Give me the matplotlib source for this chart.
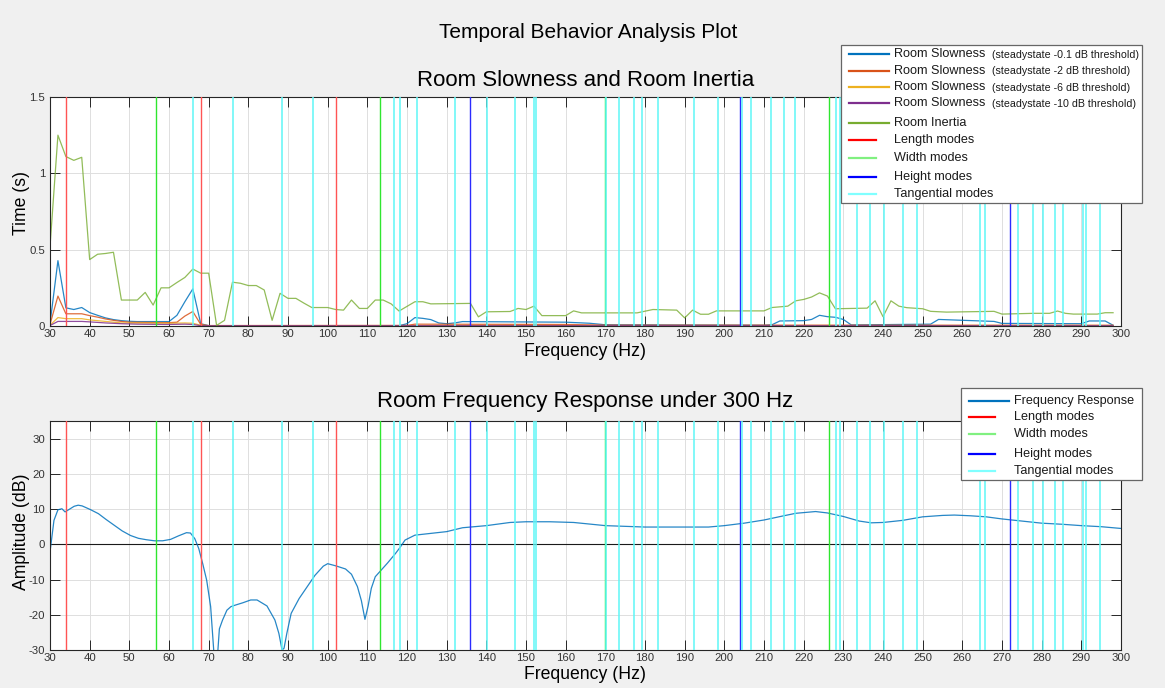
import matplotlib
matplotlib.use("Agg")
import matplotlib.pyplot as plt
from matplotlib.patches import Rectangle
from matplotlib.lines import Line2D

plt.rcParams['font.family'] = ['Liberation Sans', 'DejaVu Sans']
plt.rcParams['axes.unicode_minus'] = False

# ---------------------------------------------------------------- data
# Room slowness for four steady-state thresholds (s)
slow01_freq = [30, 32, 34, 36, 38, 40, 42, 44, 46, 48, 50, 52, 60, 62, 64, 66, 68, 70,
               118, 120, 122, 124, 126, 128, 130, 132, 134, 160, 166, 170, 210, 212, 214,
               220, 222, 224, 226, 228, 230, 232, 252, 254, 268, 270, 290, 292, 296, 298]
slow01_val = [0.015, 0.428, 0.119, 0.108, 0.121, 0.088, 0.070, 0.053, 0.042, 0.035, 0.031,
              0.029, 0.029, 0.070, 0.159, 0.243, 0.015, 0.002,
              0.002, 0.015, 0.055, 0.050, 0.042, 0.020, 0.015, 0.020, 0.029, 0.025, 0.018,
              0.008, 0.005, 0.008, 0.033, 0.035, 0.043, 0.070, 0.061, 0.057, 0.043, 0.007,
              0.012, 0.043, 0.030, 0.017, 0.015, 0.033, 0.033, 0.005]

slow2_freq = [30, 32, 34, 38, 40, 42, 44, 46, 48, 50, 60, 62, 64, 66, 68, 70, 120, 122,
              160, 170, 298]
slow2_val = [0.010, 0.196, 0.080, 0.080, 0.068, 0.058, 0.046, 0.037, 0.030, 0.025, 0.022,
             0.025, 0.065, 0.095, 0.010, 0.003, 0.004, 0.012, 0.010, 0.006, 0.005]

slow6_freq = [30, 32, 34, 38, 40, 42, 44, 46, 48, 60, 64, 66, 68, 70, 298]
slow6_val = [0.005, 0.055, 0.048, 0.048, 0.040, 0.035, 0.030, 0.025, 0.020, 0.018, 0.020,
             0.018, 0.005, 0.002, 0.003]

slow10_freq = [30, 32, 38, 40, 44, 48, 52, 60, 64, 66, 68, 298]
slow10_val = [0.003, 0.030, 0.030, 0.027, 0.020, 0.015, 0.012, 0.010, 0.012, 0.010, 0.002,
              0.002]

# Room inertia (s)
inertia_freq = [30, 32, 34, 36, 38, 40, 42, 44, 46, 48, 50, 52, 54, 56, 58, 60, 62, 64, 66,
                68, 70, 72, 74, 76, 78, 80, 82, 84, 86, 88, 90, 92, 94, 96, 98, 100, 102,
                104, 106, 108, 110, 112, 114, 116, 118, 122, 124, 126, 136, 138, 140, 146,
                148, 150, 152, 154, 160, 162, 164, 178, 182, 188, 190, 192, 194, 196, 198,
                210, 212, 216, 218, 220, 222, 224, 226, 228, 236, 238, 240, 242, 244, 246,
                250, 252, 256, 268, 270, 278, 282, 284, 286, 288, 294, 296, 298]
inertia_val = [0.52, 1.25, 1.11, 1.085, 1.105, 0.435, 0.470, 0.475, 0.483, 0.170, 0.170,
               0.170, 0.220, 0.137, 0.250, 0.250, 0.285, 0.318, 0.373, 0.346, 0.346, 0.004,
               0.037, 0.287, 0.280, 0.265, 0.265, 0.236, 0.037, 0.214, 0.181, 0.181, 0.150,
               0.121, 0.121, 0.121, 0.108, 0.104, 0.170, 0.115, 0.115, 0.170, 0.170, 0.145,
               0.098, 0.159, 0.159, 0.145, 0.148, 0.060, 0.093, 0.095, 0.115, 0.108, 0.130,
               0.068, 0.068, 0.099, 0.086, 0.086, 0.108, 0.104, 0.053, 0.104, 0.077, 0.077,
               0.099, 0.099, 0.121, 0.130, 0.165, 0.174, 0.190, 0.217, 0.196, 0.113, 0.117,
               0.165, 0.061, 0.165, 0.130, 0.120, 0.113, 0.096, 0.091, 0.096, 0.078, 0.083,
               0.083, 0.098, 0.083, 0.078, 0.078, 0.087, 0.087]

# Room frequency response (dB)
resp_freq = [30, 31, 32, 33, 33.8, 35.1, 36.1, 37.1, 38.1, 40.1, 42.2, 44.2, 46.2, 48.2,
             50.3, 52.3, 54.3, 56.3, 58.4, 60.4, 62.4, 64.4, 65.4, 66.5, 67.5, 68.5, 69.5,
             70.5, 71.3, 72.3, 72.7, 73.5, 74.6, 75.6, 76.6, 78.6, 80.6, 82.2, 84.7, 86.7,
             87.7, 88.5, 89.0, 89.7, 90.8, 92.8, 94.8, 96.8, 98.9, 100.0, 102.0, 104.5,
             106.0, 107.5, 108.5, 109.4, 110.2, 111.0, 112.0, 115.1, 117.1, 118.3, 119.5,
             122, 126, 130, 134, 140, 146, 150, 156, 162, 170, 180, 190, 196, 200, 205,
             210, 215, 218, 220, 223, 226, 230, 234, 237, 240, 245, 250, 255, 258, 262,
             266, 270, 275, 280, 285, 290, 295, 300]
resp_db = [-2.2, 6.8, 9.8, 10.1, 9.2, 10.1, 10.8, 11.1, 10.9, 9.9, 8.7, 7.0, 5.4, 3.8,
           2.5, 1.7, 1.3, 1.0, 1.0, 1.4, 2.4, 3.3, 3.2, 1.6, -1.2, -5.5, -10.2,
           -17.7, -30.5, -30.5, -24.0, -21.5, -18.7, -17.7, -17.3, -16.6, -15.8, -15.8,
           -17.5, -21.5, -25.3, -30.0, -29.5, -25.3, -19.6, -15.4, -12.1, -8.8, -6.2,
           -5.5, -6.1, -7.0, -8.5, -12.0, -16.0, -21.3, -17.5, -12.5, -9.2, -5.3, -2.6,
           -0.8, 1.2, 2.6, 3.1, 3.6, 4.7, 5.3, 6.2, 6.4, 6.4, 6.2, 5.3, 4.9, 4.9, 4.9,
           5.3, 6.0, 6.9, 8.1, 8.8, 9.0, 9.3, 8.9, 7.9, 6.6, 6.1, 6.2, 6.8, 7.8, 8.2,
           8.3, 8.1, 7.8, 7.2, 6.6, 6.0, 5.7, 5.3, 5.0, 4.5]

# Room modes (Hz)
length_modes = [34.0, 68.0, 102.0]
width_modes = [56.6, 113.2, 169.8, 226.5]
height_modes = [136.0, 204.0, 272.0]
tangential_modes = [66.0, 76.1, 88.6, 96.2, 116.6, 118.2, 122.5, 132.2, 140.1, 147.2,
                    152.0, 152.4, 170.1, 173.5, 177.2, 179.3, 183.2, 192.3, 198.3, 204.4,
                    206.8, 211.8, 215.1, 217.8, 228.1, 229.2, 233.4, 236.6, 240.3, 245.1,
                    248.5, 264.4, 265.6, 274.1, 277.8, 280.3, 283.3, 285.3, 290.4, 291.3,
                    294.7]

x_ticks = list(range(30, 301, 10))
time_ticks = [0, 0.5, 1, 1.5]
time_tick_labels = ['0', '0.5', '1', '1.5']
amp_ticks = [-30, -20, -10, 0, 10, 20, 30]

slowness_labels = ['-0.1', '-2', '-6', '-10']

# ---------------------------------------------------------------- style
C_BLUE = '#0072BD'
C_ORANGE = '#D95319'
C_YELLOW = '#EDB120'
C_PURPLE = '#7E2F8E'
C_GREEN = '#77AC30'
MODE_COLORS = {'length': '#ff5454', 'width': '#2fe62f', 'height': '#2b2bff',
               'tangential': '#5ff7f7'}
LEG_MODE_COLORS = {'length': '#ff0000', 'width': '#80f080', 'height': '#0000ff',
                   'tangential': '#80ffff'}
DARK = '#262626'

W, H = 1165, 688
fig = plt.figure(figsize=(W / 100, H / 100), dpi=100, facecolor='#f0f0f0')


def px_axes(left, top, right, bottom):
    return fig.add_axes([left / W, 1 - bottom / H, (right - left) / W, (bottom - top) / H])


def style_axes(ax):
    ax.set_facecolor('white')
    ax.set_xlim(30, 300)
    ax.set_xticks(x_ticks)
    ax.grid(True, color='#dedede', lw=0.7, zorder=0)
    ax.set_axisbelow(True)
    ax.tick_params(direction='in', length=7.2, width=0.7, color=DARK, top=True,
                   right=True, labelsize=8.2, labelcolor='#333333')
    ax.tick_params(axis='x', pad=2.0)
    ax.tick_params(axis='y', pad=3.5)
    for s in ax.spines.values():
        s.set_color(DARK)
        s.set_linewidth(0.8)


def draw_modes(ax):
    for f in length_modes:
        ax.axvline(f, color=MODE_COLORS['length'], lw=1.0, zorder=3)
    for f in width_modes:
        ax.axvline(f, color=MODE_COLORS['width'], lw=1.0, zorder=3)
    for f in height_modes:
        ax.axvline(f, color=MODE_COLORS['height'], lw=1.0, zorder=3)
    for f in tangential_modes:
        ax.axvline(f, color=MODE_COLORS['tangential'], lw=1.1, zorder=3)


# ---------------------------------------------------------------- top panel
ax1 = px_axes(50, 97, 1121, 326)
style_axes(ax1)
ax1.plot(slow01_freq, slow01_val, color=C_BLUE, lw=0.9, alpha=0.85, zorder=2)
ax1.plot(slow2_freq, slow2_val, color=C_ORANGE, lw=0.9, alpha=0.85, zorder=2)
ax1.plot(slow6_freq, slow6_val, color=C_YELLOW, lw=0.9, alpha=0.85, zorder=2)
ax1.plot(slow10_freq, slow10_val, color=C_PURPLE, lw=0.9, alpha=0.85, zorder=2)
ax1.plot(inertia_freq, inertia_val, color=C_GREEN, lw=0.9, alpha=0.8, zorder=2)
draw_modes(ax1)
ax1.set_ylim(0, 1.5)
ax1.set_yticks(time_ticks)
ax1.set_yticklabels(time_tick_labels)
ax1.set_title('Room Slowness and Room Inertia', fontsize=16, pad=7.6)
ax1.set_xlabel('Frequency (Hz)', fontsize=12.7)
ax1.xaxis.label.set_va('baseline')
ax1.xaxis.set_label_coords(0.5, (326 - 356) / 229)
ax1.set_ylabel('Time (s)', fontsize=12.7)
ax1.yaxis.set_label_coords(-0.0185, (326 - 203) / 229)

# ---------------------------------------------------------------- bottom panel
ax2 = px_axes(50, 421, 1121, 650)
style_axes(ax2)
ax2.axhline(0, color='#1a1a1a', lw=0.8, zorder=2)
ax2.plot(resp_freq, resp_db, color=C_BLUE, lw=0.9, alpha=0.85, zorder=2)
draw_modes(ax2)
ax2.set_ylim(-30, 35)
ax2.set_yticks(amp_ticks)
ax2.set_title('Room Frequency Response under 300 Hz', fontsize=16, pad=9.9)
ax2.set_xlabel('Frequency (Hz)', fontsize=12.7)
ax2.xaxis.label.set_va('baseline')
ax2.xaxis.set_label_coords(0.5, (650 - 679) / 229)
ax2.set_ylabel('Amplitude (dB)', fontsize=12.7)
ax2.yaxis.set_label_coords(-0.0185, (650 - 532) / 229)

# ---------------------------------------------------------------- overlay: title and legends
ov = fig.add_axes([0, 0, 1, 1], zorder=10)
ov.set_xlim(0, W)
ov.set_ylim(H, 0)
ov.axis('off')
ov.patch.set_alpha(0)

ov.text(588, 32, 'Temporal Behavior Analysis Plot', ha='center', va='center',
        fontsize=15, color='black')


def legend_box(x0, y0, x1, y1):
    ov.add_patch(Rectangle((x0, y0), x1 - x0, y1 - y0, facecolor='white',
                           edgecolor='#666666', lw=0.9))


def legend_entry(y, color, label, x_line0, x_line1, x_text, lw=1.6):
    ov.add_line(Line2D([x_line0, x_line1], [y, y], color=color, lw=lw))
    ov.text(x_text, y, label, ha='left', va='center', fontsize=9.1, color='#1a1a1a')


# legend of the top panel
legend_box(841, 45, 1142, 203)
leg1_y = [54.3, 71.0, 87.3, 103.3, 122.7]
for y, c, thr in zip(leg1_y[:4], [C_BLUE, C_ORANGE, C_YELLOW, C_PURPLE], slowness_labels):
    legend_entry(y, c, 'Room Slowness', 849, 889, 894)
    ov.text(992, y + 0.5, '(steadystate %s dB threshold)' % thr, ha='left', va='center',
            fontsize=7.7, color='#1a1a1a')
legend_entry(leg1_y[4], C_GREEN, 'Room Inertia', 849, 889, 894)
mode_entries = [('length', 'Length modes'), ('width', 'Width modes'),
                ('height', 'Height modes'), ('tangential', 'Tangential modes')]
for y, (key, lab) in zip([140.0, 157.7, 176.7, 193.7], mode_entries):
    legend_entry(y, LEG_MODE_COLORS[key], lab, 849, 876, 894)

# legend of the bottom panel
legend_box(960.5, 387.5, 1142, 480)
legend_entry(400.7, C_BLUE, 'Frequency Response', 969, 1009, 1014)
for y, (key, lab) in zip([417.3, 434.3, 454.0, 470.7], mode_entries):
    legend_entry(y, LEG_MODE_COLORS[key], lab, 969, 995, 1014)

fig.savefig('out.png', dpi=100, facecolor=fig.get_facecolor())
